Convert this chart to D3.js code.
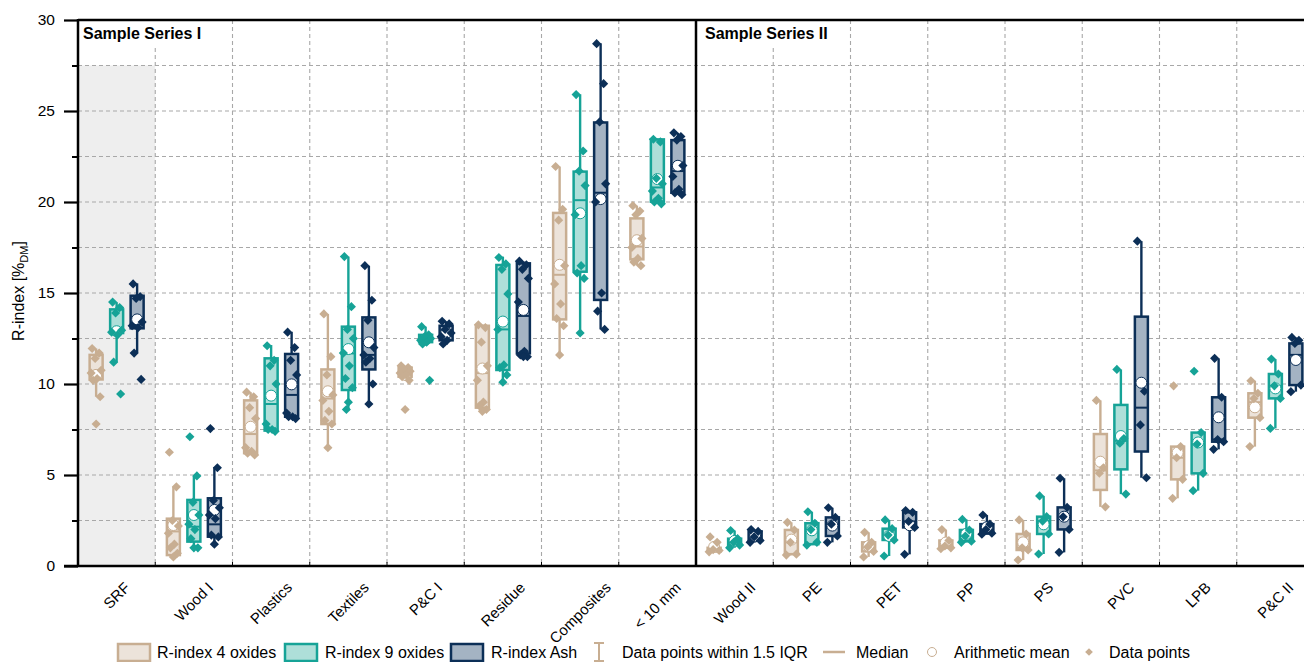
<!DOCTYPE html>
<html><head><meta charset="utf-8">
<script src="https://cdn.jsdelivr.net/npm/d3@7"></script>
<style>
body{margin:0;background:#fff}
svg{display:block}
text{font-family:Arial,"Liberation Sans",Helvetica,sans-serif;fill:#000}
</style>
</head><body>
<svg id="chart" width="1304" height="662"></svg>
<script>
// ---------------- DATA ----------------
const categories = ["SRF","Wood I","Plastics","Textiles","P&C I","Residue","Composites","< 10 mm",
                    "Wood II","PE","PET","PP","PS","PVC","LPB","P&C II"];
const seriesNames = ["R-index 4 oxides","R-index 9 oxides","R-index Ash"];
const groupLabels = ["Sample Series I","Sample Series II"];
const groupStarts = ["SRF","Wood II"];
const yMajorTicks = [0,5,10,15,20,25,30];
const yMinorTicks = [2.5,7.5,12.5,17.5,22.5,27.5];

// stats per category: [whiskerLow, q1, median, q3, whiskerHigh, mean]
const stats4ox = [
  [9.3,10.25,10.6,11.6,11.95,10.5],
  [0.5,0.6,1.9,2.6,4.35,2.25],
  [6.1,6.2,7.25,9.1,9.55,7.65],
  [6.5,7.8,9.2,10.8,13.85,9.6],
  [10.2,10.4,10.6,10.9,11.0,10.5],
  [8.5,8.7,10.6,13.2,13.25,10.85],
  [11.6,13.55,16.0,19.4,21.95,16.55],
  [16.5,16.85,17.55,19.1,19.8,17.9],
  [0.75,0.8,0.9,1.0,1.3,1.05],
  [0.6,0.65,1.3,1.98,2.4,1.45],
  [0.5,0.8,1.05,1.3,1.85,1.1],
  [0.95,1.0,1.1,1.4,2.0,1.29],
  [0.33,0.88,1.0,1.76,2.53,1.3],
  [3.25,4.18,5.25,7.25,9.1,5.73],
  [3.72,4.76,5.95,6.56,6.56,6.23],
  [6.56,8.15,9.0,9.49,10.18,8.72]
];
const points4ox = [
  [11.95,11.7,11.4,10.75,10.6,10.3,10.2,9.3,7.8],
  [6.25,4.35,2.5,2.2,1.8,1.2,1.0,0.7,0.5],
  [9.55,9.3,8.7,8.1,6.5,6.3,6.2,6.1],
  [13.85,11.5,10.5,9.4,9.1,8.5,8.0,7.8,6.5],
  [11.0,10.9,10.8,10.7,10.6,10.5,10.4,10.2,8.6],
  [13.25,13.1,12.3,11.0,10.2,9.0,8.8,8.6,8.5],
  [21.95,19.6,19.0,16.5,15.5,14.4,13.6,13.2,11.6],
  [19.8,19.5,19.3,18.0,17.5,16.9,16.7,16.5],
  [1.6,1.3,0.9,0.85,0.78],
  [2.4,1.98,1.3,0.65,0.6],
  [1.85,1.3,1.05,0.8,0.5],
  [2.0,1.4,1.1,1.0,0.95],
  [2.53,1.76,1.0,0.88,0.33],
  [9.1,5.4,5.1,3.25],
  [9.9,6.56,5.95,4.76,3.72],
  [10.18,9.49,9.2,8.15,6.56]
];

const stats9ox = [
  [11.2,12.8,12.9,14.1,14.5,12.9],
  [0.97,1.34,2.16,3.63,4.95,2.8],
  [7.4,7.44,8.9,11.41,12.14,9.36],
  [8.57,9.67,11.68,13.15,17.0,11.92],
  [12.2,12.3,12.5,12.7,13.15,12.45],
  [10.13,10.77,13.0,16.54,17.0,13.43],
  [12.82,16.17,20.1,21.67,25.92,19.38],
  [19.9,20.02,20.8,23.44,23.45,21.26],
  [1.0,1.15,1.3,1.5,1.95,1.38],
  [1.15,1.2,2.0,2.35,2.98,1.96],
  [0.55,1.43,1.7,2.05,2.53,1.65],
  [1.3,1.36,1.65,1.98,2.56,1.77],
  [0.66,1.76,2.47,2.71,3.85,2.29],
  [3.95,5.31,6.88,8.85,10.8,7.14],
  [4.14,5.09,6.7,7.33,7.33,6.79],
  [7.56,9.21,9.9,10.55,11.37,9.76]
];
const points9ox = [
  [14.5,14.2,13.9,12.95,12.85,12.7,11.2,9.45],
  [7.1,4.95,3.5,2.8,2.3,2.0,1.5,1.0,1.0],
  [12.1,11.3,11.0,10.0,7.8,7.5,7.5,7.4],
  [17.0,14.25,13.0,12.5,11.7,11.0,10.3,9.8,9.0,8.6],
  [13.15,12.7,12.6,12.5,12.4,12.3,12.2,10.2],
  [16.95,16.6,16.3,14.95,13.0,11.05,10.9,10.5,10.1],
  [25.9,22.8,21.7,20.9,19.3,16.5,16.1,15.8,12.8],
  [23.45,23.3,21.3,21.0,20.6,20.2,20.0,19.9],
  [1.95,1.5,1.3,1.15,1.0],
  [2.98,2.35,2.0,1.3,1.15],
  [2.53,2.05,1.7,1.43,0.55],
  [2.56,1.98,1.65,1.36,1.3],
  [3.85,2.71,2.47,1.76,0.66],
  [10.8,7.0,6.75,3.95],
  [10.7,7.33,6.7,5.09,4.14],
  [11.37,10.55,9.9,9.21,7.56]
];

const statsAsh = [
  [11.72,13.06,13.3,14.85,15.53,13.55],
  [1.19,1.61,2.29,3.72,5.42,3.08],
  [8.1,8.2,9.4,11.65,12.87,9.98],
  [8.9,10.8,11.6,13.66,16.5,12.29],
  [12.2,12.4,12.8,13.2,13.45,12.8],
  [11.5,11.68,13.74,16.63,16.75,14.07],
  [13.0,14.62,20.51,24.37,28.72,20.16],
  [20.4,20.51,21.7,23.4,23.8,21.99],
  [1.3,1.4,1.6,1.9,2.0,1.63],
  [1.3,1.65,2.3,2.67,3.2,2.22],
  [0.64,2.12,2.45,2.95,3.05,2.24],
  [1.75,1.78,2.0,2.3,2.8,2.13],
  [0.75,2.01,2.7,3.22,4.82,2.71],
  [4.85,6.29,8.7,13.7,17.85,10.07],
  [6.41,6.83,6.95,9.27,11.41,8.17],
  [9.58,9.94,11.6,12.23,12.56,11.32]
];
const pointsAsh = [
  [15.5,14.8,14.7,13.4,13.2,13.1,11.7,10.25],
  [7.55,5.4,3.6,3.2,2.8,2.6,1.7,1.6,1.2],
  [12.85,12.0,11.3,10.5,8.4,8.2,8.2,8.1],
  [16.5,14.6,13.5,12.0,11.6,11.4,11.2,10.0,8.9],
  [13.45,13.3,13.0,12.8,12.6,12.4,12.2],
  [16.75,16.55,16.3,15.8,14.5,11.8,11.6,11.5,11.5],
  [28.7,26.5,24.4,21.0,20.0,15.0,14.0,13.0],
  [23.8,23.6,23.4,22.0,21.4,20.7,20.5,20.4],
  [2.0,1.9,1.6,1.4,1.3],
  [3.2,2.67,2.3,1.65,1.3],
  [3.05,2.95,2.45,2.12,0.64],
  [2.8,2.3,2.0,1.8,1.75],
  [4.82,3.22,2.7,2.01,0.75],
  [17.85,9.6,7.75,4.85],
  [11.41,9.27,6.95,6.83,6.41],
  [12.56,12.4,12.23,9.94,9.58]
];

// ---------------- STYLE ----------------
const strokeColors = ["#C8AE92","#16A397","#0C2F57"];
const fillColors   = ["#ECE3DA","#AEDFD9","#A4B3C3"];
const jitterPattern = [-4,3,-1,5,-5,1,-3,4,0,-2];

const svg = d3.select("#chart");
const L = 78, R = 1314, T = 20, B = 566;

const x = d3.scaleBand().domain(categories).range([L, R]).paddingInner(0).paddingOuter(0);
const xs = d3.scalePoint().domain(seriesNames).range([-20.5, 20.5]);
const y = d3.scaleLinear().domain([0, 30]).range([B, T]);
const bw = x.bandwidth();

// shaded SRF column
svg.append("rect").attr("x", x("SRF")).attr("y", y(27.5))
  .attr("width", bw).attr("height", y(0) - y(27.5)).attr("fill", "#EEEEEE");

// gridlines
const grid = svg.append("g").attr("stroke", "#A8A8A8").attr("stroke-width", 1.1)
  .attr("stroke-dasharray", "4,3");
grid.selectAll("line.h").data(yMajorTicks.concat(yMinorTicks).filter(v => v > 0 && v < 30))
  .join("line").attr("x1", L).attr("x2", R).attr("y1", d => y(d)).attr("y2", d => y(d));
grid.selectAll("line.v").data(categories.slice(1).filter(c => !groupStarts.includes(c)))
  .join("line").attr("x1", d => x(d)).attr("x2", d => x(d)).attr("y1", T).attr("y2", B);

// label backgrounds + labels
const labelOffsets = [5, 9];
groupLabels.forEach((g, i) => {
  const gx = x(groupStarts[i]);
  const t = svg.append("text").attr("x", gx + labelOffsets[i]).attr("y", 39)
    .attr("font-size", 16).attr("font-weight", "bold").text(g);
  const w = t.node().getComputedTextLength();
  svg.insert("rect", "text").attr("x", gx + 1).attr("y", T + 1)
    .attr("width", w + labelOffsets[i] + 5).attr("height", 26).attr("fill", "#fff");
});

// frame
const frame = svg.append("g").attr("stroke", "#000").attr("stroke-width", 2.5);
frame.append("line").attr("x1", L).attr("x2", R).attr("y1", T).attr("y2", T);
frame.append("line").attr("x1", L).attr("x2", L).attr("y1", T - 1).attr("y2", B + 1);
frame.append("line").attr("x1", x("Wood II")).attr("x2", x("Wood II")).attr("y1", T).attr("y2", B);
frame.append("line").attr("x1", R).attr("x2", R).attr("y1", T).attr("y2", B);

// x boundary ticks
svg.append("g").attr("stroke", "#000").attr("stroke-width", 1)
  .selectAll("line").data(categories.slice(1)).join("line")
  .attr("x1", d => x(d)).attr("x2", d => x(d)).attr("y1", B).attr("y2", B - 4);

// y axis
const yAxis = svg.append("g").attr("transform", `translate(${L},0)`)
  .call(d3.axisLeft(y).tickValues(yMajorTicks).tickSize(14).tickPadding(9).tickSizeOuter(0));
yAxis.select(".domain").remove();
yAxis.selectAll(".tick line").attr("stroke-width", 2.2);
yAxis.selectAll(".tick text").attr("font-size", 15.5).attr("font-family", "Arial,'Liberation Sans',sans-serif").attr("fill", "#000");
const yMinor = svg.append("g").attr("transform", `translate(${L},0)`)
  .call(d3.axisLeft(y).tickValues(yMinorTicks).tickSize(6).tickFormat(""));
yMinor.select(".domain").remove();
yMinor.selectAll(".tick line").attr("stroke-width", 2);

// bottom axis line
svg.append("line").attr("x1", L - 14).attr("x2", R).attr("y1", B).attr("y2", B)
  .attr("stroke", "#000").attr("stroke-width", 2.5);

// x axis labels (rotated, bbox centred on tick, top-aligned)
const xAxis = svg.append("g").attr("transform", `translate(0,${B})`)
  .call(d3.axisBottom(x).tickSize(0).tickPadding(0));
xAxis.select(".domain").remove();
xAxis.selectAll(".tick text")
  .attr("font-size", 15).attr("font-family", "Arial,'Liberation Sans',sans-serif").attr("fill", "#000")
  .attr("text-anchor", "middle").attr("dy", "0.35em").attr("y", 0)
  .each(function () {
    const w = this.getComputedTextLength();
    const h = 15 * 1.1;
    const half = (w + h) * 0.3536;
    d3.select(this).attr("transform", `translate(0,${13 + half}) rotate(-45)`);
  });

// y title
const yt = svg.append("text").attr("transform", `translate(24,${(T + B) / 2 - 2}) rotate(-90)`)
  .attr("text-anchor", "middle").attr("font-size", 16);
yt.append("tspan").text("R-index [%");
yt.append("tspan").attr("font-size", 11).attr("dy", 4).text("DM");
yt.append("tspan").attr("dy", -4).text("]");

// ---------------- BOXES ----------------
const allStats = [stats4ox, stats9ox, statsAsh];
const allPoints = [points4ox, points9ox, pointsAsh];
const boxW = 13;
const diamond = d3.symbol().type(d3.symbolSquare).size(42);

seriesNames.forEach((s, si) => {
  const g = svg.append("g");
  const sc = strokeColors[si], fc = fillColors[si];
  const data = categories.map((c, ci) => ({ c, st: allStats[si][ci], pts: allPoints[si][ci] }));
  const cx = d => x(d.c) + bw / 2 + xs(s);
  // whiskers
  g.selectAll("line.wl").data(data).join("line")
    .attr("x1", cx).attr("x2", cx).attr("y1", d => y(d.st[0])).attr("y2", d => y(d.st[1]))
    .attr("stroke", sc).attr("stroke-width", 2.4);
  g.selectAll("line.wh").data(data).join("line")
    .attr("x1", cx).attr("x2", cx).attr("y1", d => y(d.st[3])).attr("y2", d => y(d.st[4]))
    .attr("stroke", sc).attr("stroke-width", 2.4);
  // boxes
  g.selectAll("rect").data(data).join("rect")
    .attr("x", d => cx(d) - boxW / 2).attr("width", boxW)
    .attr("y", d => y(d.st[3])).attr("height", d => Math.max(0.5, y(d.st[1]) - y(d.st[3])))
    .attr("fill", fc).attr("stroke", sc).attr("stroke-width", 2.5);
  // medians
  g.selectAll("line.med").data(data).join("line")
    .attr("x1", d => cx(d) - boxW / 2).attr("x2", d => cx(d) + boxW / 2)
    .attr("y1", d => y(d.st[2])).attr("y2", d => y(d.st[2]))
    .attr("stroke", sc).attr("stroke-width", 2);
  // means
  g.selectAll("circle").data(data).join("circle")
    .attr("cx", cx).attr("cy", d => y(d.st[5])).attr("r", 5.5)
    .attr("fill", "#fff").attr("stroke", sc).attr("stroke-width", 1);
  // points
  const pts = data.flatMap(d => d.pts.map((v, i) => ({ x: cx(d) + jitterPattern[i % jitterPattern.length], v })));
  g.selectAll("path").data(pts).join("path")
    .attr("d", diamond)
    .attr("transform", d => `translate(${d.x},${y(d.v)}) rotate(45)`)
    .attr("fill", sc);
});

// ---------------- LEGEND ----------------
const lg = svg.append("g");
const ly = 652;
const swatchX = [118, 285, 451];
const textX = [157, 325, 491];
seriesNames.forEach((s, i) => {
  lg.append("rect").attr("x", swatchX[i]).attr("y", ly - 8).attr("width", 32).attr("height", 17)
    .attr("fill", fillColors[i]).attr("stroke", strokeColors[i]).attr("stroke-width", 2.5);
  lg.append("text").attr("x", textX[i]).attr("y", ly).attr("dy", "0.35em").attr("font-size", 16).text(s);
});
// whisker icon
const wc = strokeColors[0];
lg.append("line").attr("x1", 599).attr("x2", 599).attr("y1", ly - 9).attr("y2", ly + 9).attr("stroke", wc).attr("stroke-width", 2);
lg.append("line").attr("x1", 594).attr("x2", 604).attr("y1", ly - 9).attr("y2", ly - 9).attr("stroke", wc).attr("stroke-width", 2);
lg.append("line").attr("x1", 594).attr("x2", 604).attr("y1", ly + 9).attr("y2", ly + 9).attr("stroke", wc).attr("stroke-width", 2);
lg.append("text").attr("x", 622).attr("y", ly).attr("dy", "0.35em").attr("font-size", 16).text("Data points within 1.5 IQR");
// median icon
lg.append("line").attr("x1", 823).attr("x2", 845).attr("y1", ly).attr("y2", ly).attr("stroke", wc).attr("stroke-width", 2.5);
lg.append("text").attr("x", 856).attr("y", ly).attr("dy", "0.35em").attr("font-size", 16).text("Median");
// mean icon
lg.append("circle").attr("cx", 932).attr("cy", ly).attr("r", 4.5).attr("fill", "#fff").attr("stroke", wc).attr("stroke-width", 1);
lg.append("text").attr("x", 954).attr("y", ly).attr("dy", "0.35em").attr("font-size", 16).text("Arithmetic mean");
// data points icon
lg.append("path").attr("d", d3.symbol().type(d3.symbolSquare).size(30)).attr("transform", `translate(1089,${ly}) rotate(45)`).attr("fill", wc);
lg.append("text").attr("x", 1109).attr("y", ly).attr("dy", "0.35em").attr("font-size", 16).text("Data points");
</script>
</body></html>
